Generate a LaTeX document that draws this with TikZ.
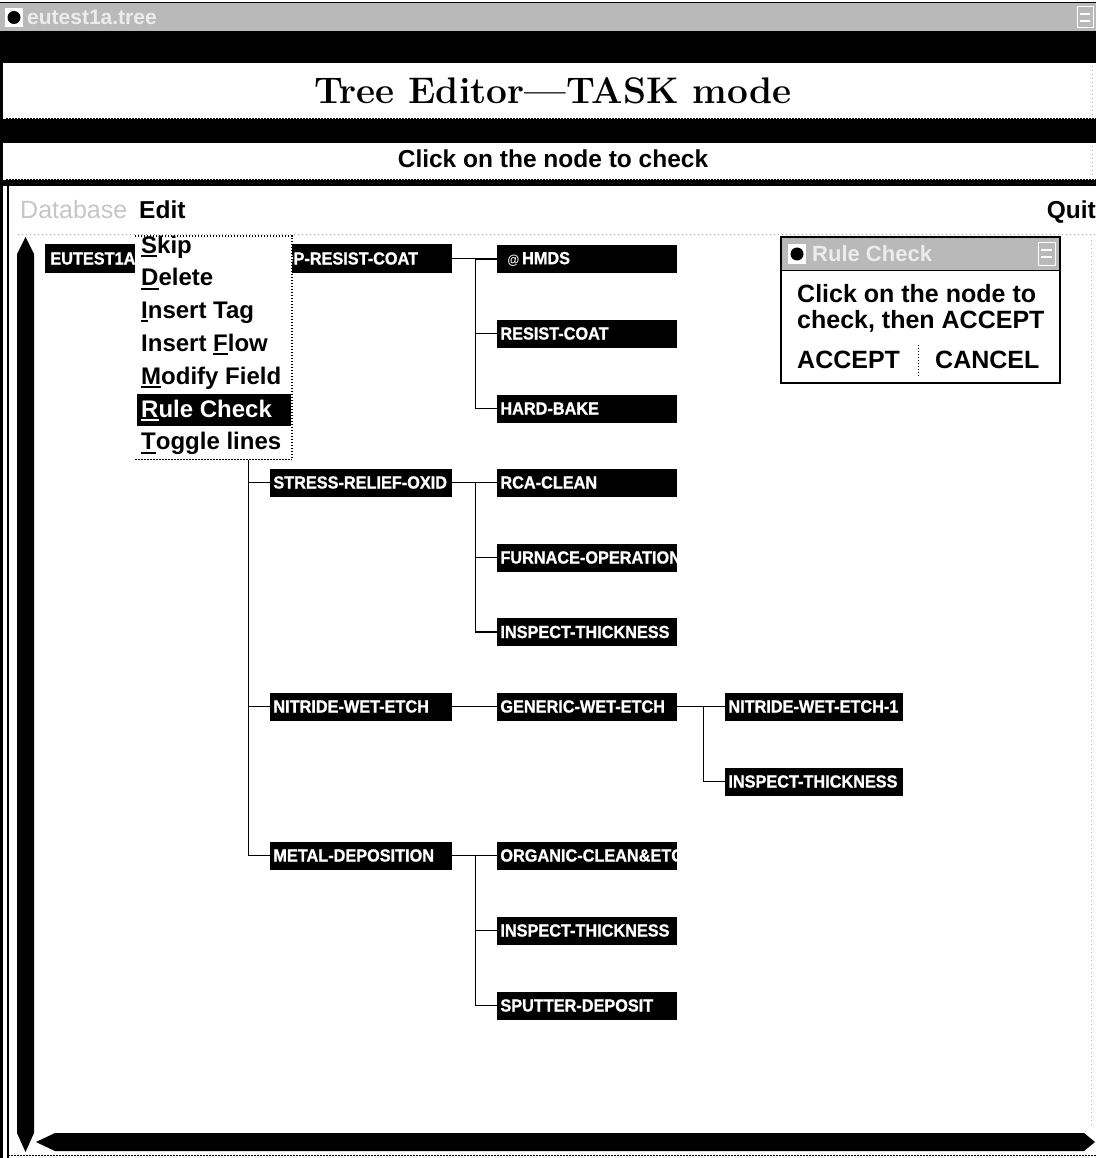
\documentclass[tikz,border=0pt]{standalone}
\usepackage{fontspec}
\newfontfamily\uifont{Liberation Sans}
\newfontfamily\boxfont[FakeStretch=0.93, BoldFeatures={FakeBold=1.2}]{Liberation Sans}
% underlined mnemonic letter of a menu entry
\newcommand\ukey[1]{\setbox0\hbox{#1}\rlap{\rule[-4pt]{\wd0}{2pt}}\box0}
\begin{document}
\begin{tikzpicture}[x=1pt,y=-1pt,
  conn/.style={line width=1.3pt},
  tbox/.style 2 args={fill=black, draw=none, anchor=west, minimum height=28pt,
    inner sep=0pt,
    path picture={\node[anchor=west, inner sep=0pt, fill=none, draw=none,
      minimum width=0pt, minimum height=0pt, text=white,
      font=\boxfont\bfseries\fontsize{17.5}{20}\selectfont]
      at ([xshift=#1]path picture bounding box.west) {#2};}},
  lvone/.style={minimum width=182pt},
  lvtwo/.style={minimum width=180pt},
  lvthree/.style={minimum width=178pt},
  uib/.style={font=\uifont\bfseries\fontsize{24.5}{28}\selectfont},
  mitem/.style={anchor=base west, inner sep=0pt, font=\uifont\bfseries\fontsize{24}{28}\selectfont},
  dtext/.style={anchor=base west, inner sep=0pt, font=\uifont\bfseries\fontsize{25}{28}\selectfont},
  wavy/.style={line width=1.8pt, dash pattern=on 1.5pt off 1.5pt},
  faint/.style={gray!60, line width=0.8pt, dash pattern=on 1pt off 3pt},
]
\useasboundingbox (0,0) rectangle (1096,1158);
\fill[white] (0,0) rectangle (1096,1158);

% ---- window title strip
\fill[gray!55] (0,3) rectangle (1096,31);
\draw[line width=1pt] (0,3) -- (1096,3);
\fill[white] (5,8) rectangle (23,27);
\fill[black] (14,17.5) circle (6.5);
\node[anchor=west, inner sep=0pt, text=white!85!gray,
      font=\uifont\bfseries\fontsize{21}{24}\selectfont] (wtitle) at (27,17.5) {eutest1a.tree};
\draw[white, line width=1pt] (1077,7) rectangle (1093,28);
\draw[white, line width=1.5pt] (1080,14) -- (1090,14) (1080,21) -- (1090,21);

% ---- heading panels
\fill[black] (0,31) rectangle (1096,63);
\fill[white] (6,63) rectangle (1096,118);
\node[anchor=base, inner sep=0pt, font=\bfseries\fontsize{37}{40}\selectfont] (title) at (553,104) {Tree Editor---TASK mode};
\draw[wavy] (6,118.5) -- (1096,118.5);
\fill[black] (0,119.5) rectangle (1096,143);
\fill[white] (6,143) rectangle (1096,179);
\node[anchor=base, inner sep=0pt, uib] (prompt) at (553,168) {Click on the node to check};
\draw[wavy] (6,179.5) -- (1096,179.5);
\fill[black] (0,180.5) rectangle (1096,186);
\draw[faint] (1092,66) -- (1092,116) (1092,146) -- (1092,176);

% ---- window frame, left side
\fill[black] (0,31) rectangle (3,1158);
\draw[line width=2pt] (7.5,186) -- (7.5,1158);

% ---- menu bar
\node[anchor=base west, inner sep=0pt, text=gray!45, font=\uifont\fontsize{25}{28}\selectfont] (mdb) at (20,219) {Database};
\node[anchor=base west, inner sep=0pt, uib] (medit) at (139,219) {Edit};
\node[anchor=base east, inner sep=0pt, uib] (mquit) at (1096,219) {Quit};
\draw[faint, gray!70] (18,234) -- (1096,234);
\draw[faint] (1091,240) -- (1091,1128);

% ---- scroll bars
\fill[black] (17,254) -- (25.5,237) -- (34,254) -- (34,1133) -- (25.5,1152) -- (17,1133) -- cycle;
\fill[black] (36,1142) -- (55,1133) -- (1084,1133) -- (1095,1142) -- (1084,1151) -- (55,1151) -- cycle;
\draw[wavy] (8,1155.5) -- (1096,1155.5);

% ---- task tree
\node[tbox={5pt}{EUTEST1A}, minimum width=105pt] (root) at (45,258.5) {};

\node[tbox={10.5pt}{OP-RESIST-COAT}, lvone] (n1) at (270,258.5) {};
\node[tbox={3pt}{STRESS-RELIEF-OXID}, lvone] (n2) at (270,482.5) {};
\node[tbox={3pt}{NITRIDE-WET-ETCH}, lvone] (n3) at (270,706.5) {};
\node[tbox={3pt}{METAL-DEPOSITION}, lvone] (n4) at (270,855.5) {};

\node[tbox={10pt}{{\fontsize{13}{15}\selectfont\itshape @}\,HMDS}, lvtwo] (a1) at (497,259) {};
\node[tbox={3pt}{RESIST-COAT}, lvtwo] (a2) at (497,333.5) {};
\node[tbox={3pt}{HARD-BAKE}, lvtwo] (a3) at (497,408.5) {};
\node[tbox={3pt}{RCA-CLEAN}, lvtwo] (b1) at (497,482.5) {};
\node[tbox={3pt}{FURNACE-OPERATION}, lvtwo] (b2) at (497,557.5) {};
\node[tbox={3pt}{INSPECT-THICKNESS}, lvtwo] (b3) at (497,632) {};
\node[tbox={3pt}{GENERIC-WET-ETCH}, lvtwo] (c1) at (497,706.5) {};
\node[tbox={3pt}{ORGANIC-CLEAN\&ETCH}, lvtwo] (d1) at (497,855.5) {};
\node[tbox={3pt}{INSPECT-THICKNESS}, lvtwo] (d2) at (497,930.5) {};
\node[tbox={3pt}{SPUTTER-DEPOSIT}, lvtwo] (d3) at (497,1005.5) {};

\node[tbox={3pt}{NITRIDE-WET-ETCH-1}, lvthree] (e1) at (725,706.5) {};
\node[tbox={3pt}{INSPECT-THICKNESS}, lvthree] (e2) at (725,781.5) {};

\foreach \c in {n1,n2,n3,n4}
  \draw[conn] (root.east) -- ++(98,0) |- (\c.west);
\foreach \c in {a1,a2,a3}
  \draw[conn] (n1.east) -- ++(23,0) |- (\c.west);
\foreach \c in {b1,b2,b3}
  \draw[conn] (n2.east) -- ++(23,0) |- (\c.west);
\draw[conn] (n3.east) -- (c1.west);
\foreach \c in {d1,d2,d3}
  \draw[conn] (n4.east) -- ++(23,0) |- (\c.west);
\foreach \c in {e1,e2}
  \draw[conn] (c1.east) -- ++(26,0) |- (\c.west);

% ---- Edit pull-down menu
\fill[white] (135,236) rectangle (292,460);
\draw[line width=1.2pt, dash pattern=on 1.2pt off 1.8pt] (135,236) -- (292,236) -- (292,460);
\draw[wavy] (135,459.5) -- (292,459.5);
\fill[black] (137,394) rectangle (291,426);
\node[mitem] (mskip) at (141,253) {\ukey{S}kip};
\node[mitem] (mdel)  at (141,285.5) {\ukey{D}elete};
\node[mitem] (mtag)  at (141,318) {\ukey{I}nsert Tag};
\node[mitem] (mflow) at (141,351) {Insert \ukey{F}low};
\node[mitem] (mmod)  at (141,384) {\ukey{M}odify Field};
\node[mitem, text=white] (mrule) at (141,417) {\ukey{R}ule Check};
\node[mitem] (mtog)  at (141,449.5) {\ukey{T}oggle lines};

% ---- Rule Check dialog
\fill[white] (781,237) rectangle (1060,383);
\fill[gray!55] (781,237) rectangle (1060,270);
\draw[line width=1.5pt] (781,237) rectangle (1060,383);
\draw[line width=1pt] (781,270) -- (1060,270);
\fill[white] (788,244) rectangle (806,264);
\fill[black] (797,254) circle (6.5);
\node[anchor=west, inner sep=0pt, text=white!85!gray,
      font=\uifont\bfseries\fontsize{22}{24}\selectfont] (dtitle) at (812,254) {Rule Check};
\draw[white, line width=1pt] (1038,243) rectangle (1055,265);
\draw[white, line width=1.5pt] (1041,250) -- (1052,250) (1041,257) -- (1052,257);
\node[dtext] (dl1) at (797,302) {Click on the node to};
\node[dtext] (dl2) at (797,328) {check, then ACCEPT};
\node[dtext] (dacc) at (797,368) {ACCEPT};
\node[dtext] (dcan) at (935,368) {CANCEL};
\draw[line width=0.8pt, dash pattern=on 1pt off 2pt] (918,345) -- (918,378);
\end{tikzpicture}
\end{document}
